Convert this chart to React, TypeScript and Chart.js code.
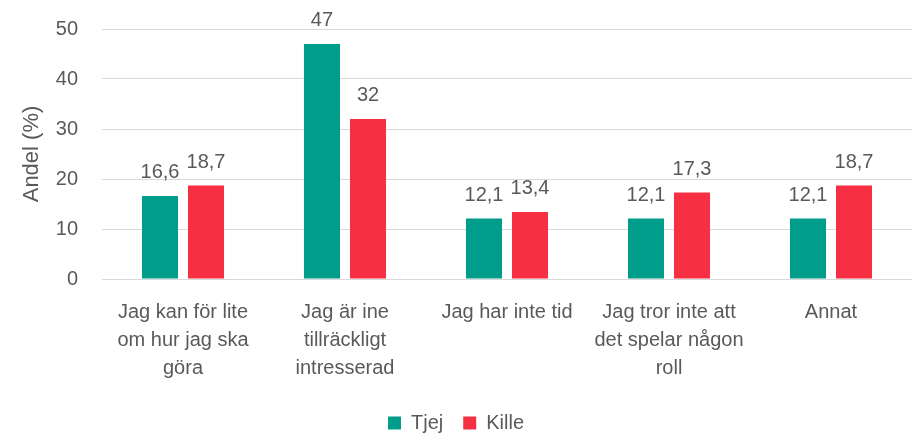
import React, { useEffect, useRef } from "react";
import { Chart, registerables } from "chart.js";

Chart.register(...registerables);

const categories: string[][] = [
  ["Jag kan för lite", "om hur jag ska", "göra"],
  ["Jag är ine", "tillräckligt", "intresserad"],
  ["Jag har inte tid"],
  ["Jag tror inte att", "det spelar någon", "roll"],
  ["Annat"],
];
const tjej: number[] = [16.6, 47, 12.1, 12.1, 12.1];
const kille: number[] = [18.7, 32, 13.4, 17.3, 18.7];
const yTicks: number[] = [0, 10, 20, 30, 40, 50];
const yTitle = "Andel (%)";

const TEXT = "#595959";
const FONT = "'Liberation Sans', Arial, sans-serif";

const labelsPlugin = {
  id: "valueLabels",
  afterDatasetsDraw(chart: any) {
    const ctx = chart.ctx;
    ctx.save();
    ctx.fillStyle = TEXT;
    ctx.font = `20px ${FONT}`;
    ctx.textAlign = "center";
    ctx.textBaseline = "alphabetic";
    chart.data.datasets.forEach((ds: any, i: number) => {
      const meta = chart.getDatasetMeta(i);
      meta.data.forEach((el: any, j: number) => {
        const v = ds.data[j];
        ctx.fillText(String(v).replace(".", ","), el.x, el.y - 18);
      });
    });
    // y axis title
    const area = chart.chartArea;
    ctx.translate(32, (area.top + area.bottom) / 2);
    ctx.rotate(-Math.PI / 2);
    ctx.textBaseline = "middle";
    ctx.font = `22px ${FONT}`;
    ctx.fillText(yTitle, 0, 0);
    ctx.restore();
  },
  afterLayout(chart: any) {
    const lg = chart.legend;
    if (lg) {
      const shift = 10;
      lg.top += shift;
      lg.bottom += shift;
    }
  },
};

export default function App() {
  const ref = useRef<HTMLCanvasElement>(null);
  useEffect(() => {
    if (!ref.current) return;
    const chart = new Chart(ref.current, {
      type: "bar",
      data: {
        labels: categories,
        datasets: [
          { label: "Tjej", data: tjej, backgroundColor: "#009E8A", borderWidth: 0 },
          { label: "Kille", data: kille, backgroundColor: "#F62F42", borderWidth: 0 },
        ],
      },
      options: {
        animation: false,
        responsive: false,
        devicePixelRatio: 1,
        layout: { padding: { top: 29, right: 4, bottom: 0, left: 0 } },
        datasets: { bar: { categoryPercentage: 0.568, barPercentage: 0.783 } },
        plugins: {
          legend: {
            position: "bottom",
            labels: {
              boxWidth: 13,
              boxHeight: 13,
              padding: 20,
              color: TEXT,
              font: { family: FONT, size: 20 },
            },
          },
          tooltip: { enabled: false },
        },
        scales: {
          x: {
            grid: { display: false, drawTicks: false },
            border: { display: false },
            ticks: {
              color: TEXT,
              font: { family: FONT, size: 20, lineHeight: 1.4 },
              padding: 19,
              maxRotation: 0,
              autoSkip: false,
            },
            afterFit(scale: any) {
              scale.height = 104;
            },
          },
          y: {
            min: 0,
            max: 50,
            afterBuildTicks(scale: any) {
              scale.ticks = yTicks.map((v) => ({ value: v }));
            },
            grid: { color: "#D9D9D9", lineWidth: 1, drawTicks: false },
            border: { display: false },
            ticks: {
              color: TEXT,
              font: { family: FONT, size: 20 },
              padding: 24,
            },
            afterFit(scale: any) {
              scale.width = 102;
              scale.paddingTop = 12;
              scale.paddingBottom = 12;
            },
          },
        },
      },
      plugins: [labelsPlugin],
    } as any);
    return () => chart.destroy();
  }, []);
  return (
    <div style={{ position: "fixed", left: 0, top: 0, width: 916, height: 433, background: "#fff" }}>
      <canvas ref={ref} width={916} height={433} style={{ width: 916, height: 433 }} />
    </div>
  );
}
